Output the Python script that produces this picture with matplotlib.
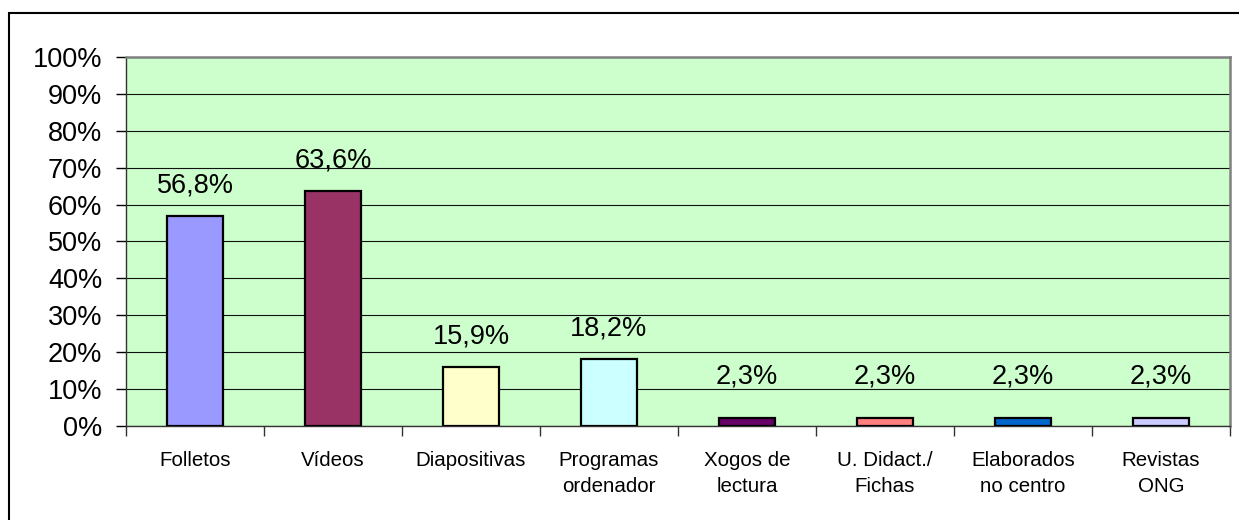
import matplotlib
matplotlib.use("Agg")
import matplotlib.pyplot as plt
from matplotlib.patches import Rectangle

plt.rcParams['font.family'] = ['Liberation Sans', 'DejaVu Sans']

categories = ["Folletos", "Vídeos", "Diapositivas", "Programas\nordenador",
              "Xogos de\nlectura", "U. Didact./\nFichas", "Elaborados\nno centro",
              "Revistas\nONG"]
values = [56.8, 63.6, 15.9, 18.2, 2.3, 2.3, 2.3, 2.3]
colors = ["#9999FF", "#993366", "#FFFFCC", "#CCFFFF", "#660066",
          "#FF8080", "#0066CC", "#CCCCFF"]
yticks = list(range(0, 101, 10))
ytick_labels = [f"{v}%" for v in yticks]

W, H = 1239, 520
fig = plt.figure(figsize=(W / 100, H / 100), dpi=100)
fig.patch.set_facecolor("white")

# outer chart border (only left/top visible in reference)
fig.add_artist(Rectangle((9 / W, -0.1), 1.2, 1 - 13 / H + 0.1,
                         transform=fig.transFigure, fill=False,
                         edgecolor="black", linewidth=1.5))

ax = fig.add_axes([126 / W, 1 - 426 / H, (1230 - 126) / W, (426 - 57) / H])
ax.set_facecolor("#CCFFCC")

x = list(range(len(categories)))
ax.bar(x, values, width=0.41, color=colors, edgecolor="black", linewidth=1.6,
       zorder=3)

label_floor = 5  # small bars get their label raised slightly, as in the source
for xi, v in zip(x, values):
    ax.annotate(f"{v:.1f}%".replace(".", ","), (xi, max(v, label_floor)),
                xytext=(0, 17), textcoords="offset points",
                ha="center", va="baseline", fontsize=19.5, zorder=4)

ax.set_xlim(-0.5, len(categories) - 0.5)
ax.set_ylim(0, 100)

ax.set_yticks(yticks)
ax.set_yticklabels(ytick_labels, fontsize=19.5)
ax.tick_params(axis="y", direction="out", length=7, width=1, pad=10,
               color="black")

# major ticks at category boundaries, labels at centers
ax.set_xticks([i - 0.5 for i in range(len(categories) + 1)])
ax.set_xticklabels([])
ax.set_xticks(x, minor=True)
ax.set_xticklabels(categories, minor=True, fontsize=14.8, linespacing=1.45,
                   va="top")
ax.tick_params(axis="x", which="major", direction="out", length=7, width=1,
               color="#333333")
ax.tick_params(axis="x", which="minor", length=0, pad=18)

ax.grid(axis="y", color="#111111", linewidth=0.8, zorder=1)
ax.set_axisbelow(True)

for side in ("top", "right"):
    ax.spines[side].set_color("#808080")
    ax.spines[side].set_linewidth(1.8)
for side in ("left", "bottom"):
    ax.spines[side].set_color("#333333")
    ax.spines[side].set_linewidth(1.0)

fig.savefig("out.png", dpi=100, facecolor="white")
